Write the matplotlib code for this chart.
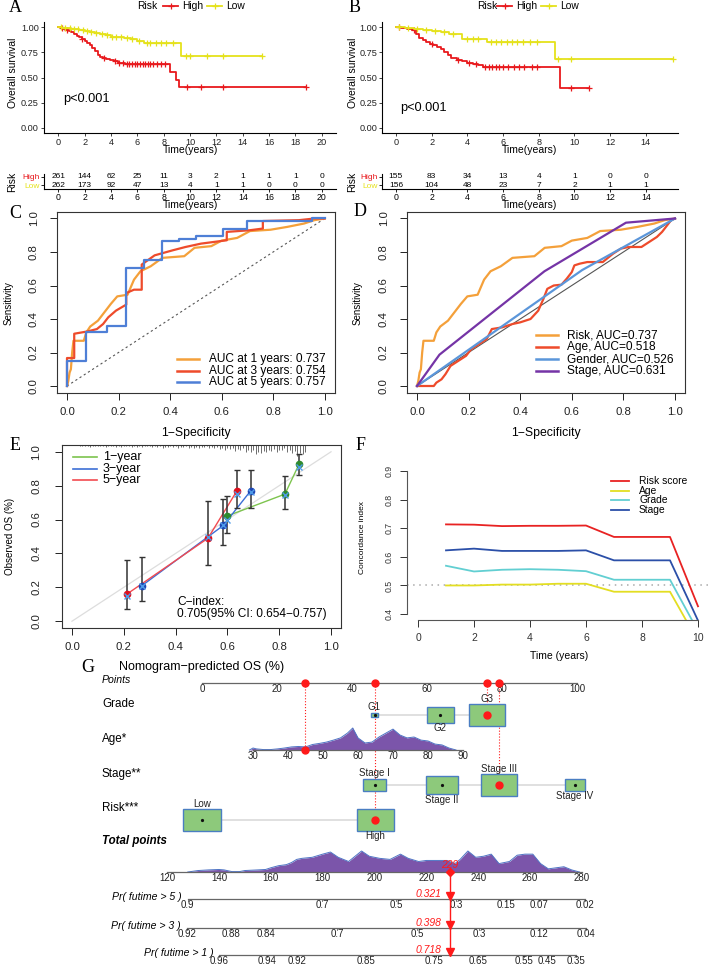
import matplotlib

matplotlib.use("Agg")
import matplotlib.pyplot as plt
import numpy as np
from matplotlib.lines import Line2D
from matplotlib.patches import Rectangle

plt.rcParams["font.family"] = ["Liberation Sans", "DejaVu Sans"]

# ---------------- A / B : Kaplan-Meier ----------------
a_high_t = [0.2, 0.4, 0.6, 0.8, 1.0, 1.2, 1.4, 1.6, 1.8, 2.0, 2.2, 2.4, 2.6, 2.8, 3.0, 3.2, 3.4, 3.6,
            3.9, 4.2, 4.5, 4.8, 5.1, 8.5, 8.9, 9.2]
a_high_s = [0.99, 0.985, 0.975, 0.96, 0.95, 0.935, 0.915, 0.90, 0.885, 0.865, 0.845, 0.825, 0.79, 0.76,
            0.725, 0.705, 0.69, 0.68, 0.675, 0.66, 0.645, 0.64, 0.633, 0.557, 0.475, 0.41]
a_high_end = 18.8
a_high_cens = [0.3, 0.7, 1.8, 3.5, 4.3, 4.6, 4.9, 5.2, 5.4, 5.6, 5.8, 6.0, 6.2, 6.4, 6.6, 6.8, 7.0, 7.2,
               7.5, 7.8, 8.1, 9.8, 10.8, 12.5, 18.8]
a_low_t = [0.3, 0.6, 1.0, 1.3, 1.6, 2.0, 2.4, 2.8, 3.2, 3.6, 4.0, 4.5, 5.0, 5.5, 6.0, 6.5, 9.3]
a_low_s = [0.995, 0.99, 0.984, 0.978, 0.97, 0.96, 0.955, 0.945, 0.935, 0.92, 0.905, 0.90, 0.895, 0.88,
           0.865, 0.84, 0.71]
a_low_end = 15.5
a_low_cens = [0.2, 0.5, 0.9, 1.2, 1.5, 1.9, 2.2, 2.5, 2.9, 3.3, 3.7, 4.1, 4.4, 4.8, 5.2, 5.6, 6.1, 6.7,
              7.0, 7.4, 7.8, 8.2, 8.7, 9.7, 10.0, 11.3, 12.5, 15.5]

b_high_t = [0.3, 0.6, 0.9, 1.1, 1.3, 1.5, 1.7, 1.9, 2.1, 2.3, 2.5, 2.7, 2.9, 3.1, 3.4, 3.7, 4.0, 4.3,
            4.6, 4.9, 9.2]
b_high_s = [0.99, 0.98, 0.97, 0.93, 0.89, 0.87, 0.85, 0.835, 0.82, 0.80, 0.78, 0.75, 0.72, 0.69, 0.67,
            0.66, 0.645, 0.63, 0.62, 0.60, 0.40]
b_high_end = 10.8
b_high_cens = [0.2, 1.0, 2.0, 3.5, 4.1, 4.5, 5.0, 5.2, 5.4, 5.6, 5.8, 6.0, 6.3, 6.6, 6.9, 7.2, 7.6, 7.9,
               9.8, 10.8]
b_low_t = [0.5, 1.0, 1.5, 2.0, 2.5, 3.0, 3.7, 5.1, 8.9]
b_low_s = [0.99, 0.985, 0.975, 0.96, 0.95, 0.935, 0.885, 0.855, 0.685]
b_low_end = 15.5
b_low_cens = [0.2, 0.7, 1.2, 1.7, 2.2, 2.7, 3.2, 4.0, 4.3, 4.6, 5.3, 5.6, 5.9, 6.2, 6.5, 6.8, 7.1, 7.5,
              7.9, 9.1, 9.8, 15.5]

a_table_t = [0, 2, 4, 6, 8, 10, 12, 14, 16, 18, 20]
a_table_high = [261, 144, 62, 25, 11, 3, 2, 1, 1, 1, 0]
a_table_low = [262, 173, 92, 47, 13, 4, 1, 1, 0, 0, 0]
b_table_t = [0, 2, 4, 6, 8, 10, 12, 14]
b_table_high = [155, 83, 34, 13, 4, 1, 0, 0]
b_table_low = [156, 104, 48, 23, 7, 2, 1, 1]

# ---------------- C / D : ROC ----------------
roc_risk_1y = [(0, 0), (0.005, 0.03), (0.01, 0.08), (0.015, 0.1), (0.02, 0.2), (0.025, 0.27), (0.065, 0.27),
               (0.075, 0.32), (0.09, 0.355), (0.12, 0.39), (0.145, 0.44), (0.17, 0.49), (0.195, 0.535),
               (0.235, 0.545), (0.26, 0.635), (0.285, 0.685), (0.325, 0.715), (0.37, 0.765), (0.455, 0.775),
               (0.495, 0.825), (0.56, 0.835), (0.60, 0.868), (0.66, 0.884), (0.71, 0.925), (0.79, 0.933),
               (0.855, 0.95), (0.92, 0.97), (0.96, 0.99), (1, 1)]
roc_3y = [(0, 0), (0, 0.167), (0.028, 0.167), (0.028, 0.312), (0.08, 0.326), (0.116, 0.34), (0.14, 0.37),
          (0.16, 0.41), (0.19, 0.45), (0.23, 0.486), (0.23, 0.555), (0.26, 0.575), (0.29, 0.575),
          (0.29, 0.725), (0.34, 0.78), (0.41, 0.81), (0.46, 0.83), (0.52, 0.85), (0.62, 0.87), (0.62, 0.92),
          (0.71, 0.93), (0.76, 0.94), (0.76, 0.985), (0.9, 0.99), (0.96, 1.0), (1, 1)]
roc_5y = [(0, 0), (0, 0.15), (0.075, 0.15), (0.075, 0.32), (0.155, 0.32), (0.155, 0.36), (0.23, 0.36),
          (0.23, 0.705), (0.30, 0.705), (0.30, 0.755), (0.37, 0.755), (0.37, 0.865), (0.435, 0.865),
          (0.435, 0.88), (0.50, 0.88), (0.50, 0.895), (0.605, 0.895), (0.605, 0.935), (0.70, 0.935),
          (0.70, 0.985), (0.95, 0.985), (0.95, 1.0), (1, 1)]
roc_c_labels = ["AUC at 1 years: 0.737", "AUC at 3 years: 0.754", "AUC at 5 years: 0.757"]

roc_age = [(0, 0), (0.065, 0), (0.075, 0.02), (0.095, 0.04), (0.11, 0.07), (0.13, 0.12), (0.16, 0.15),
           (0.19, 0.18), (0.21, 0.22), (0.24, 0.25), (0.27, 0.28), (0.29, 0.34), (0.33, 0.35), (0.37, 0.37),
           (0.40, 0.38), (0.44, 0.40), (0.47, 0.45), (0.49, 0.52), (0.505, 0.58), (0.53, 0.60), (0.56, 0.605),
           (0.58, 0.64), (0.60, 0.68), (0.61, 0.72), (0.63, 0.73), (0.66, 0.74), (0.72, 0.74), (0.76, 0.79),
           (0.79, 0.82), (0.82, 0.83), (0.87, 0.83), (0.90, 0.86), (0.93, 0.89), (0.95, 0.92), (0.97, 0.96),
           (0.985, 0.99), (1, 1)]
roc_gender = [(0, 0), (0.64, 0.692), (1, 1)]
roc_stage = [(0, 0), (0.087, 0.187), (0.494, 0.685), (0.81, 0.975), (1, 1)]
roc_d_labels = ["Risk, AUC=0.737", "Age, AUC=0.518", "Gender, AUC=0.526", "Stage, AUC=0.631"]

# ---------------- E : calibration ----------------
cal_pred = {"1-year": [0.597, 0.822, 0.876], "3-year": [0.27, 0.584, 0.69], "5-year": [0.212, 0.525, 0.637]}
cal_obs = {"1-year": [0.62, 0.75, 0.925], "3-year": [0.21, 0.565, 0.77], "5-year": [0.16, 0.49, 0.77]}
cal_lo = {"1-year": [0.52, 0.66, 0.865], "3-year": [0.12, 0.45, 0.67], "5-year": [0.07, 0.33, 0.67]}
cal_hi = {"1-year": [0.74, 0.86, 0.985], "3-year": [0.38, 0.72, 0.89], "5-year": [0.36, 0.71, 0.89]}
cal_corr = {"1-year": [0.60, 0.745, 0.91], "3-year": [0.205, 0.57, 0.76], "5-year": [0.15, 0.50, 0.75]}
rug_counts = [1, 1, 2, 1, 1, 2, 1, 2, 2, 1, 2, 2, 2, 1, 2, 2, 3, 2, 2, 3, 2, 3, 3, 3, 2, 3, 3, 4, 5, 4,
              6, 5, 7, 8, 10, 9, 7, 6, 8, 5, 7, 9, 12, 10]

# ---------------- F : C-index over time ----------------
cidx_years = [1, 2, 3, 4, 5, 6, 7, 8, 9, 10]
cidx = {
    "Risk score": [0.714, 0.713, 0.708, 0.709, 0.709, 0.710, 0.670, 0.670, 0.670, 0.427],
    "Age": [0.500, 0.500, 0.503, 0.503, 0.506, 0.506, 0.478, 0.478, 0.478, 0.304],
    "Grade": [0.569, 0.549, 0.555, 0.557, 0.555, 0.550, 0.520, 0.520, 0.520, 0.340],
    "Stage": [0.623, 0.629, 0.621, 0.621, 0.621, 0.623, 0.588, 0.588, 0.588, 0.377],
}

# ---------------- G : nomogram ----------------
grade_cats = ["G1", "G2", "G3"]
grade_pts = [46.0, 63.5, 76.0]
grade_freq = [0.025, 0.34, 0.64]
stage_cats = ["Stage I", "Stage II", "Stage III", "Stage IV"]
stage_pts = [46.0, 64.0, 79.2, 99.5]
stage_freq = [0.23, 0.46, 0.62, 0.19]
risk_cats = ["Low", "High"]
risk_pts = [0.0, 46.2]
risk_freq = [0.65, 0.63]
age_ticks = [30, 40, 50, 60, 70, 80, 90]
age_pts_30, age_pts_per_year = 13.6, 0.9333
age_grid = [29, 30, 31, 33, 35, 37, 39, 41, 43, 45, 47, 49, 51, 53, 55, 57, 58.5, 60, 62, 64, 66, 68,
            70, 72, 74, 76, 78, 80, 82, 84, 86, 88]
age_dens = [0, 0.09, 0.05, 0.02, 0.02, 0.05, 0.09, 0.14, 0.16, 0.14, 0.25, 0.3, 0.36, 0.45, 0.55, 0.77,
            1.0, 0.55, 0.32, 0.36, 0.59, 0.77, 0.95, 0.68, 0.55, 0.59, 0.45, 0.41, 0.27, 0.23, 0.09, 0]
total_ticks = [120, 140, 160, 180, 200, 220, 240, 260, 280]
total_grid = [128, 132, 136, 140, 142, 145, 148, 150, 155, 158, 160, 163, 166, 168, 170, 172, 176, 180,
              183, 186, 190, 193, 195, 198, 202, 206, 210, 213, 217, 220, 224, 228, 231, 233, 236, 239,
              242, 245, 248, 252, 255, 258, 261, 264, 267, 270, 273, 276, 279]
total_dens = [0, 0.07, 0.1, 0.12, 0.1, 0.02, 0.02, 0.07, 0.1, 0.12, 0.2, 0.3, 0.35, 0.45, 0.6, 0.65, 0.7,
              0.85, 0.95, 0.7, 0.5, 0.8, 1.0, 0.75, 0.65, 0.6, 0.85, 0.65, 0.5, 0.55, 0.55, 0.55, 0.4, 0.6,
              1.0, 0.7, 0.75, 0.85, 0.4, 0.5, 0.8, 0.85, 0.85, 0.4, 0.15, 0.2, 0.25, 0.1, 0]
pr_labels = ["Pr( futime > 5 )", "Pr( futime > 3 )", "Pr( futime > 1 )"]
pr_ticks = [
    ["0.9", "0.7", "0.5", "0.3", "0.15", "0.07", "0.02"],
    ["0.92", "0.88", "0.84", "0.7", "0.5", "0.3", "0.12", "0.04"],
    ["0.96", "0.94", "0.92", "0.85", "0.75", "0.65", "0.55", "0.45", "0.35"],
]
pr_tick_total = [
    [128.0, 179.8, 208.3, 231.4, 250.7, 263.4, 281.1],
    [127.7, 144.7, 158.2, 185.5, 216.4, 240.3, 263.4, 281.5],
    [140.1, 158.6, 170.1, 196.7, 222.9, 239.9, 257.6, 266.5, 277.7],
]
pr_values = ["0.321", "0.398", "0.718"]
sel_age = 45

RED = "#E8191D"
YEL = "#E5E21B"

W, H = 708, 964
fig = plt.figure(figsize=(W / 100, H / 100), dpi=100)
fig.patch.set_facecolor("white")


def add_box(l, t, r, b):
    return fig.add_axes([l / W, 1 - b / H, (r - l) / W, (b - t) / H])


def ftext(x, y, s, **kw):
    kw.setdefault("ha", "center")
    kw.setdefault("va", "center")
    fig.text(x / W, 1 - y / H, s, **kw)


def fline(x0, x1, y, **kw):
    fig.add_artist(Line2D([x0 / W, x1 / W], [1 - y / H] * 2, transform=fig.transFigure, **kw))


def letter(x, y, s):
    ftext(x, y, s, fontsize=13, family="Liberation Serif")


# ---------------- KM panels ----------------
def km_panel(ax, curves, xlim, xticks, p_x, p_y):
    for t, s, end, cens, col in curves:
        ax.step([0] + t + [end], [1] + s + [s[-1]], where="post", color=col, lw=1.3)
        levels = np.array([1] + s)
        idx = np.searchsorted(t, cens, side="right")
        ax.plot(cens, levels[idx], "+", color=col, ms=4, mew=0.9)
    ax.set_xlim(*xlim)
    ax.set_ylim(-0.05, 1.05)
    ax.set_xticks(xticks)
    ax.set_yticks([0, 0.25, 0.5, 0.75, 1.0])
    ax.set_yticklabels(["0.00", "0.25", "0.50", "0.75", "1.00"])
    ax.tick_params(labelsize=6.6, length=2.5, width=0.6, colors="#222222", pad=1)
    for side in ["top", "right"]:
        ax.spines[side].set_visible(False)
    for side in ["left", "bottom"]:
        ax.spines[side].set_linewidth(0.8)
    ax.text(p_x, p_y, "p<0.001", fontsize=9.2, va="center", ha="left")


def risk_table(ax, times, high, low, xlim, xticks):
    for t, h, l in zip(times, high, low):
        ax.text(t, 2, str(h), ha="center", va="center", fontsize=6.0)
        ax.text(t, 1, str(l), ha="center", va="center", fontsize=6.0)
    ax.set_xlim(*xlim)
    ax.set_ylim(0.6, 2.4)
    ax.set_xticks(xticks)
    ax.set_yticks([1, 2])
    ax.set_yticklabels(["Low", "High"])
    ax.get_yticklabels()[0].set_color(YEL)
    ax.get_yticklabels()[1].set_color(RED)
    ax.tick_params(labelsize=6.0, length=2.5, width=0.6, pad=0.5)
    ax.tick_params(axis="x", labelsize=6.3)
    for side in ["top", "right"]:
        ax.spines[side].set_visible(False)
    for side in ["left", "bottom"]:
        ax.spines[side].set_linewidth(0.8)


ax_a = add_box(43.7, 22, 336.3, 133)
km_panel(ax_a, [(a_high_t, a_high_s, a_high_end, a_high_cens, RED),
                (a_low_t, a_low_s, a_low_end, a_low_cens, YEL)], (-1.1, 21.1), range(0, 21, 2), 0.35, 0.285)
ax_b = add_box(382, 22, 678, 133)
km_panel(ax_b, [(b_high_t, b_high_s, b_high_end, b_high_cens, RED),
                (b_low_t, b_low_s, b_low_end, b_low_cens, YEL)], (-0.78, 15.8), range(0, 15, 2), 0.26, 0.2)

tab_a = add_box(43.7, 173.5, 336.3, 188.5)
risk_table(tab_a, a_table_t, a_table_high, a_table_low, (-1.1, 21.1), range(0, 21, 2))
tab_b = add_box(382, 173.5, 678, 188.5)
risk_table(tab_b, b_table_t, b_table_high, b_table_low, (-0.78, 15.8), range(0, 15, 2))

for cx in [13, 353]:
    ftext(cx, 73, "Overall survival", rotation=90, fontsize=7.4)
    ftext(cx - 1, 182, "Risk", rotation=90, fontsize=7.4)
for cx in [191, 530]:
    ftext(cx, 150, "Time(years)", fontsize=7.5)
    ftext(cx, 205.5, "Time(years)", fontsize=7.5)

# legends A / B
for x_risk, x_l1, x_l2 in [(137, 163, 207), (477, 497, 541)]:
    ftext(x_risk, 6, "Risk", ha="left", fontsize=7.4)
    for x0, col, lab in [(x_l1, RED, "High"), (x_l2, YEL, "Low")]:
        fline(x0, x0 + 15, 6, color=col, lw=1.3)
        fig.add_artist(Line2D([(x0 + 7.5) / W], [1 - 6 / H], transform=fig.transFigure,
                              marker="+", color=col, ms=4, mew=0.9))
        ftext(x0 + 19, 6, lab, ha="left", fontsize=7.4)

letter(15, 8, "A")
letter(355, 8, "B")


# ---------------- ROC panels ----------------
def base_r(ax, pad_y=8.0, pad_x=5.5, fs=8.2):
    ax.set_xlim(-0.04, 1.04)
    ax.set_ylim(-0.04, 1.04)
    ticks = [0, 0.2, 0.4, 0.6, 0.8, 1.0]
    ax.set_xticks(ticks)
    ax.set_yticks(ticks)
    ax.set_xticklabels([f"{v:.1f}" for v in ticks])
    ax.set_yticklabels([f"{v:.1f}" for v in ticks])
    ax.tick_params(length=5, width=0.7, labelsize=fs, colors="#222222")
    ax.tick_params(axis="x", pad=pad_x)
    ax.tick_params(axis="y", pad=pad_y, labelrotation=90)
    for lab in ax.get_yticklabels():
        lab.set_va("center")
    for sp in ax.spines.values():
        sp.set_linewidth(0.8)
        sp.set_color("#333333")


ORANGE, ROC_RED, ROC_BLUE = "#F4A03A", "#EE4B2B", "#4E7FD6"
ax_c = add_box(56.7, 211.8, 335, 392.7)
base_r(ax_c)
ax_c.plot([0, 1], [0, 1], color="#555555", lw=0.8, ls=(0, (2, 2.5)))
for pts, col in [(roc_risk_1y, ORANGE), (roc_3y, ROC_RED), (roc_5y, ROC_BLUE)]:
    xy = np.array(pts)
    ax_c.plot(xy[:, 0], xy[:, 1], color=col, lw=1.6)
for y, col, lab in zip([359, 371, 382], [ORANGE, ROC_RED, ROC_BLUE], roc_c_labels):
    fline(177, 199, y, color=col, lw=1.8)
    ftext(209, y, lab, ha="left", fontsize=8.6)

ax_d = add_box(406.7, 211.8, 685.3, 392.7)
base_r(ax_d)
ax_d.plot([0, 1], [0, 1], color="#555555", lw=0.8)
D_BLUE, D_PURPLE = "#5B96DA", "#7534A6"
for pts, col in [(roc_risk_1y, ORANGE), (roc_age, ROC_RED), (roc_gender, D_BLUE), (roc_stage, D_PURPLE)]:
    xy = np.array(pts)
    ax_d.plot(xy[:, 0], xy[:, 1], color=col, lw=1.6)
for y, col, lab in zip([335, 347, 359, 371], [ORANGE, ROC_RED, D_BLUE, D_PURPLE], roc_d_labels):
    fline(536, 558, y, color=col, lw=1.8)
    ftext(567, y, lab, ha="left", fontsize=8.6)

for cx in [196, 546]:
    ftext(cx, 433, "1\u2212Specificity", fontsize=8.8)
for cx in [9, 358]:
    ftext(cx, 303, "Sensitivity", rotation=90, fontsize=7.0)
letter(15, 213, "C")
letter(360, 212, "D")

# ---------------- E calibration ----------------
ax_e = add_box(61.6, 445, 341.4, 628)
base_r(ax_e, pad_y=9.5, pad_x=5.0)
ax_e.plot([0, 1], [0, 1], color="#DDDDDD", lw=0.9)
rug_x = np.arange(0.03, 0.90, 0.02)
counts = np.array(rug_counts)
ax_e.vlines(rug_x, 1.04 - counts * 0.0055, 1.04, color="#333333", lw=0.5)
ax_e.vlines(rug_x + 0.01, 1.04 - counts * 0.004, 1.04, color="#333333", lw=0.5)
E_COLS = {"1-year": ("#7DC44E", "#2E8B2E"), "3-year": ("#3D6FD6", "#1F47B5"), "5-year": ("#F24A50", "#E0101E")}
for key in ["1-year", "3-year", "5-year"]:
    line_col, pt_col = E_COLS[key]
    ax_e.plot(cal_pred[key], cal_obs[key], color=line_col, lw=1.0)
for key in ["1-year", "3-year", "5-year"]:
    line_col, pt_col = E_COLS[key]
    ax_e.errorbar(cal_pred[key], cal_obs[key], yerr=[np.subtract(cal_obs[key], cal_lo[key]),
                                                      np.subtract(cal_hi[key], cal_obs[key])],
                  fmt="none", ecolor="#333333", elinewidth=1.1, capsize=2.5, capthick=1.0)
    ax_e.plot(cal_pred[key], cal_obs[key], "o", color=pt_col, ms=4.5)
    ax_e.plot(cal_pred[key], cal_corr[key], "x", color="#4E9BE8", ms=4.5, mew=1.0)
ax_e.text(0.405, 0.115, "C\u2212index:", fontsize=8.6, va="center")
ax_e.text(0.405, 0.045, "0.705(95% CI: 0.654\u22120.757)", fontsize=8.6, va="center")
for y, key in zip([457, 469, 480], ["1-year", "3-year", "5-year"]):
    fline(73, 97, y, color=E_COLS[key][0], lw=1.2)
    ftext(103, y, key.replace("-", "\u2212"), ha="left", fontsize=9.0)
ftext(10, 536, "Observed OS (%)", rotation=90, fontsize=7.0)
letter(15, 446, "E")

# ---------------- F C-index ----------------
ax_f = add_box(406.8, 465.6, 709.2, 619.7)
ax_f.set_xlim(-0.4, 10.4)
ax_f.set_ylim(0.38, 0.92)
ax_f.axhline(0.5, color="#AAAAAA", ls=(0, (1, 3)), lw=1.1)
F_COLS = {"Risk score": "#E82222", "Age": "#E3DE22", "Grade": "#62CFD2", "Stage": "#2B4FA8"}
for name, vals in cidx.items():
    ax_f.plot(cidx_years, vals, color=F_COLS[name], lw=1.3)
ax_f.set_xticks(range(0, 11, 2))
ax_f.set_yticks([0.4, 0.5, 0.6, 0.7, 0.8, 0.9])
ax_f.set_yticklabels(["0.4", "0.5", "0.6", "0.7", "0.8", "0.9"])
ax_f.tick_params(length=5, width=0.7, labelsize=6.3, colors="#333333")
ax_f.tick_params(axis="x", pad=4.5, labelsize=7.5)
ax_f.tick_params(axis="y", pad=4.5, labelrotation=90)
for lab in ax_f.get_yticklabels():
    lab.set_va("center")
for side in ["top", "right"]:
    ax_f.spines[side].set_visible(False)
ax_f.spines["left"].set_bounds(0.4, 0.9)
ax_f.spines["bottom"].set_bounds(0, 10)
for side in ["left", "bottom"]:
    ax_f.spines[side].set_color("#555555")
    ax_f.spines[side].set_linewidth(0.8)
for y, name in zip([481, 491, 500, 510], cidx.keys()):
    fline(611, 629, y, color=F_COLS[name], lw=1.3)
    ftext(639, y, name, ha="left", fontsize=7.4)
ftext(559, 656, "Time (years)", fontsize=7.5)
ftext(362, 538, "Concordance index", rotation=90, fontsize=6.0)
letter(361, 446, "F")

# ---------------- G nomogram ----------------
PX0, PXS = 202.0, 3.75          # points axis: 0 at x=202 px, 3.75 px per point
TOT0, TOTS = 167.0, 2.594       # total points axis: 120 at x=167 px


def tp(total):
    return (TOT0 + (np.asarray(total, dtype=float) - 120) * TOTS - PX0) / PXS


def age_pts(age):
    return age_pts_30 + (np.asarray(age, dtype=float) - 30) * age_pts_per_year


gax = add_box(0, 655, 708, 964)
gax.set_xlim(-PX0 / PXS, (W - PX0) / PXS)
gax.set_ylim(964, 655)
gax.axis("off")

AX_COL = "#666666"
BOX_FC, BOX_EC = "#8DC97B", "#4A7EC2"
DENS_FC, DENS_EC = "#7B55AA", "#4F74C4"
NRED = "#FF1A1A"
LABEL_X = (102 - PX0) / PXS
ROWS = {"points": 683, "grade": 715, "age": 750, "stage": 785, "risk": 820,
        "total": 872, "pr": [899, 928, 955]}

ftext(202, 667, "Nomogram\u2212predicted OS (%)", fontsize=9.0)
letter(88, 667, "G")

# points axis
gax.plot([0, 100], [ROWS["points"]] * 2, color=AX_COL, lw=0.9)
for v in range(0, 101, 20):
    gax.text(v, ROWS["points"] + 0.8, str(v), ha="center", va="top", fontsize=7.0, color="#222222")
gax.text(LABEL_X, 680, "Points", fontsize=7.6, style="italic", va="center")

# selected values
sel_grade, sel_stage, sel_risk = 2, 2, 1
sel_points = [float(age_pts(sel_age)), grade_pts[sel_grade], stage_pts[sel_stage], risk_pts[sel_risk]]
sel_rows = [ROWS["age"], ROWS["grade"], ROWS["stage"], ROWS["risk"]]
total_sel = sum(sel_points)
for p, ry in zip(sel_points, sel_rows):
    gax.plot([p, p], [ROWS["points"], ry], color=NRED, ls=":", lw=0.8, zorder=1)
    gax.plot(p, ROWS["points"], "o", color=NRED, ms=5, zorder=5)


def cat_row(name, cats, pts, freq, y, sides, sel, label_y):
    gax.text(LABEL_X, label_y, name, fontsize=8.4, va="center")
    gax.plot([min(pts), max(pts)], [y, y], color="#DADADA", lw=1.2, zorder=1)
    for i, (c, p, f, side) in enumerate(zip(cats, pts, freq, sides)):
        w = 46 * np.sqrt(f) / PXS
        h = 27 * np.sqrt(f)
        gax.add_patch(Rectangle((p - w / 2, y - h / 2), w, h, fc=BOX_FC, ec=BOX_EC, lw=1.0, zorder=2))
        if i == sel:
            gax.plot(p, y, "o", color=NRED, ms=5, zorder=4)
        else:
            gax.plot(p, y, "o", color="#111111", ms=1.3, zorder=4)
        if side == "up":
            gax.text(p, y - h / 2 - 0.5, c, ha="center", va="bottom", fontsize=7.0, color="#222222")
        else:
            gax.text(p, y + h / 2 + 0.5, c, ha="center", va="top", fontsize=7.0, color="#222222")


cat_row("Grade", grade_cats, grade_pts, grade_freq, ROWS["grade"], ["up", "down", "up"], sel_grade, 704)
cat_row("Stage**", stage_cats, stage_pts, stage_freq, ROWS["stage"], ["up", "down", "up", "down"],
        sel_stage, 774)
cat_row("Risk***", risk_cats, risk_pts, risk_freq, ROWS["risk"], ["up", "down"], sel_risk, 808)

# age axis with density
ya = ROWS["age"]
gax.text(LABEL_X, 739, "Age*", fontsize=8.4, va="center")
gax.fill_between(age_pts(age_grid), ya, ya - np.array(age_dens) * 22, color=DENS_FC, lw=0, zorder=1)
gax.plot(age_pts(age_grid), ya - np.array(age_dens) * 22, color=DENS_EC, lw=0.7, zorder=1)
gax.plot(age_pts([age_ticks[0], age_ticks[-1]]), [ya, ya], color=AX_COL, lw=0.9, zorder=2)
for a in age_ticks:
    gax.text(age_pts(a), ya + 0.8, str(a), ha="center", va="top", fontsize=7.0, color="#222222")
gax.plot(age_pts(sel_age), ya, "o", color=NRED, ms=5, zorder=5)

# total points axis with density
yt = ROWS["total"]
gax.text(LABEL_X, 841, "Total points", fontsize=8.3, style="italic", weight="bold", va="center")
gax.fill_between(tp(total_grid), yt, yt - np.array(total_dens) * 21, color=DENS_FC, lw=0, zorder=1)
gax.plot(tp(total_grid), yt - np.array(total_dens) * 21, color=DENS_EC, lw=0.7, zorder=1)
gax.plot(tp([total_ticks[0], total_ticks[-1]]), [yt, yt], color=AX_COL, lw=0.9, zorder=2)
for v in total_ticks:
    gax.text(tp(v), yt + 0.8, str(v), ha="center", va="top", fontsize=7.0, color="#222222")

# probability axes
for lab, ticks, tot, y in zip(pr_labels, pr_ticks, pr_tick_total, ROWS["pr"]):
    gax.plot(tp([tot[0], tot[-1]]), [y, y], color=AX_COL, lw=0.9)
    for s, v in zip(ticks, tot):
        gax.plot([tp(v)] * 2, [y, y + 2.5], color=AX_COL, lw=0.6)
        gax.text(tp(v), y + 0.8, s, ha="center", va="top", fontsize=7.0, color="#222222")
    gax.text(tp(tot[0]) - 1.6, y - 1.5, lab, ha="right", va="center", fontsize=7.6, style="italic")

# red arrow from total points
xs = tp(total_sel)
gax.plot([xs, xs], [yt, ROWS["pr"][-1]], color=NRED, lw=1.0, zorder=5)
gax.plot(xs, yt, "D", color=NRED, ms=4.5, zorder=6)
gax.text(xs, yt - 2, f"{total_sel:.0f}", color=NRED, fontsize=7.5, ha="center", va="bottom", style="italic")
for val, y in zip(pr_values, ROWS["pr"]):
    gax.plot(xs, y - 3, "v", color=NRED, ms=6, zorder=6)
    gax.text(xs - 2.1, y - 5, val, color=NRED, fontsize=7.5, ha="right", va="center", style="italic")

fig.savefig("out.png", dpi=100, facecolor="white")
